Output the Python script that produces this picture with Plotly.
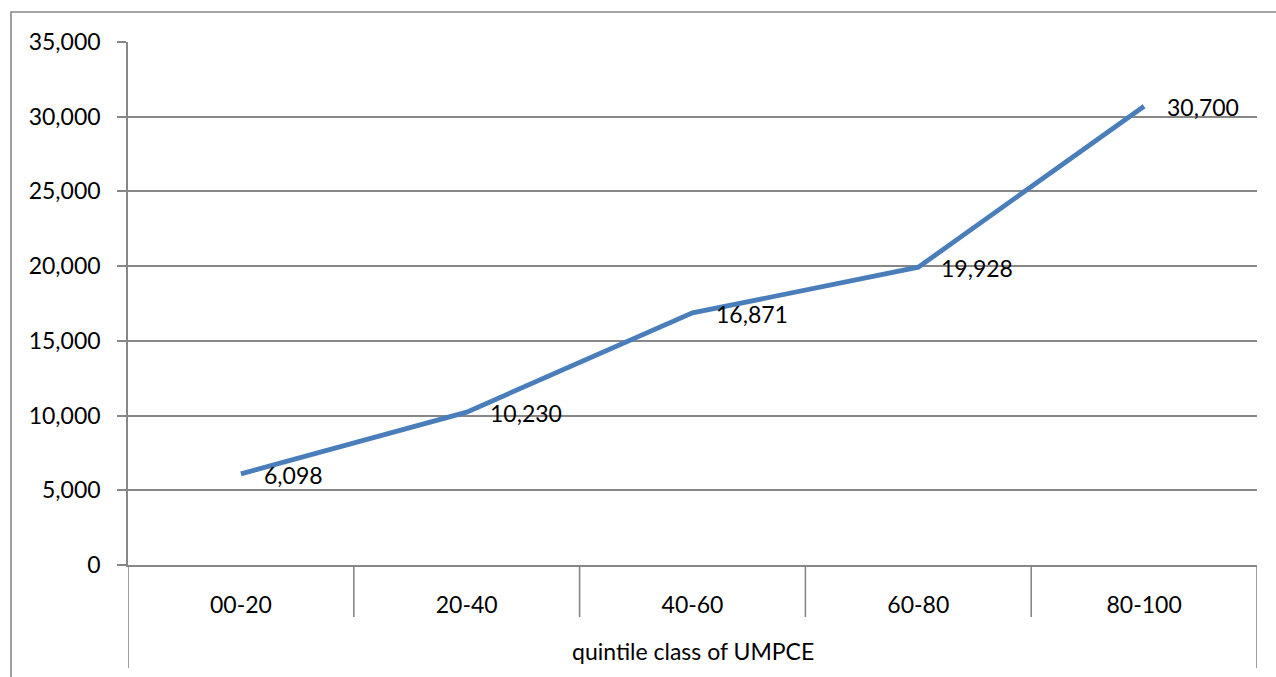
import plotly.graph_objects as go

# Per-capita values by quintile class of UMPCE
categories = ["00-20", "20-40", "40-60", "60-80", "80-100"]
values = [6098, 10230, 16871, 19928, 30700]
value_labels = ["6,098", "10,230", "16,871", "19,928", "30,700"]
axis_title = "quintile class of UMPCE"

W, H = 1276, 677
ML, MR, MT, MB = 128, 19, 42, 112
PW, PH = W - ML - MR, H - MT - MB

FONT = "Lato"
FS = 23
GRID = "#878787"
LINE = "#4A7EBB"


def px_x(px):
    return (px - ML) / PW


def px_y(py):
    return (H - MB - py) / PH


fig = go.Figure()
fig.add_trace(go.Scatter(
    x=categories, y=values, mode="lines",
    line=dict(color=LINE, width=4.8),
    hoverinfo="skip", showlegend=False,
))

# value labels to the right of each point
for c, v, t in zip(categories, values, value_labels):
    fig.add_annotation(x=c, y=v, text=t, showarrow=False,
                       xanchor="left", yanchor="middle", xshift=21, yshift=-1,
                       font=dict(family=FONT, size=FS, color="#000000"))

shapes = []
n = len(categories)
# category separators below the axis; outer ones run down to the frame bottom
for i in range(n + 1):
    xb = i - 0.5
    bottom = px_y(668) if i in (0, n) else px_y(617)
    shapes.append(dict(type="line", xref="x", yref="paper", x0=xb, x1=xb,
                       y0=0, y1=bottom, line=dict(color=GRID, width=1.6)))
# outer chart frame (runs off the right and bottom edges)
shapes.append(dict(type="rect", xref="paper", yref="paper",
                   x0=px_x(11), x1=px_x(1300), y0=px_y(12), y1=px_y(700),
                   line=dict(color=GRID, width=1.6), fillcolor="rgba(0,0,0,0)",
                   layer="below"))

fig.add_annotation(xref="paper", yref="paper", x=0.5, y=px_y(651),
                   text=axis_title, showarrow=False, xanchor="center",
                   yanchor="middle", font=dict(family=FONT, size=FS, color="#000000"))

fig.update_layout(
    width=W, height=H,
    margin=dict(l=ML, r=MR, t=MT, b=MB, pad=0),
    paper_bgcolor="white", plot_bgcolor="white",
    font=dict(family=FONT, size=FS, color="#000000"),
    shapes=shapes,
    xaxis=dict(type="category", range=[-0.5, n - 0.5], showgrid=False,
               showline=True, linecolor=GRID, linewidth=1.6, ticks="",
               tickfont=dict(family=FONT, size=FS), ticklabelstandoff=19,
               fixedrange=True),
    yaxis=dict(range=[0, 35000], dtick=5000, tickformat=",",
               showgrid=True, gridcolor=GRID, gridwidth=1.6,
               showline=True, linecolor=GRID, linewidth=1.6,
               ticks="outside", ticklen=9, tickcolor=GRID, tickwidth=1.6,
               ticklabelstandoff=12, zeroline=False,
               tickfont=dict(family=FONT, size=FS), fixedrange=True),
)

fig.write_html("out.html", config={"displayModeBar": False})
